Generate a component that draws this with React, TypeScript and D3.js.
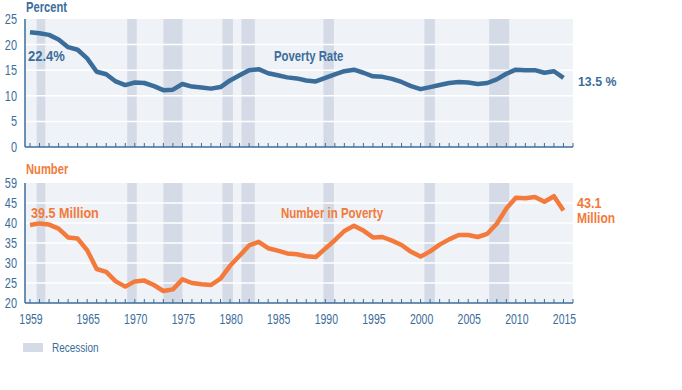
import React from "react";
import * as d3 from "d3";

const years = [
  1959, 1960, 1961, 1962, 1963, 1964, 1965, 1966, 1967, 1968,
  1969, 1970, 1971, 1972, 1973, 1974, 1975, 1976, 1977, 1978,
  1979, 1980, 1981, 1982, 1983, 1984, 1985, 1986, 1987, 1988,
  1989, 1990, 1991, 1992, 1993, 1994, 1995, 1996, 1997, 1998,
  1999, 2000, 2001, 2002, 2003, 2004, 2005, 2006, 2007, 2008,
  2009, 2010, 2011, 2012, 2013, 2014, 2015,
];

// poverty rate, percent
const povertyRate = [
  22.4, 22.2, 21.9, 21.0, 19.5, 19.0, 17.3, 14.7, 14.2, 12.8,
  12.1, 12.6, 12.5, 11.9, 11.1, 11.2, 12.3, 11.8, 11.6, 11.4,
  11.7, 13.0, 14.0, 15.0, 15.2, 14.4, 14.0, 13.6, 13.4, 13.0,
  12.8, 13.5, 14.2, 14.8, 15.1, 14.5, 13.8, 13.7, 13.3, 12.7,
  11.9, 11.3, 11.7, 12.1, 12.5, 12.7, 12.6, 12.3, 12.5, 13.2,
  14.3, 15.1, 15.0, 15.0, 14.5, 14.8, 13.5,
];

// number in poverty, millions
const numberInPoverty = [
  39.5, 39.9, 39.6, 38.6, 36.4, 36.1, 33.2, 28.5, 27.8, 25.4,
  24.1, 25.4, 25.6, 24.5, 23.0, 23.4, 25.9, 25.0, 24.7, 24.5,
  26.1, 29.3, 31.8, 34.4, 35.3, 33.7, 33.1, 32.4, 32.2, 31.7,
  31.5, 33.6, 35.7, 38.0, 39.3, 38.1, 36.4, 36.5, 35.6, 34.5,
  32.8, 31.6, 32.9, 34.6, 35.9, 37.0, 37.0, 36.5, 37.3, 39.8,
  43.6, 46.3, 46.2, 46.5, 45.3, 46.7, 43.1,
];

const recessionStart = [1959.7, 1969.2, 1973.0, 1979.2, 1981.2, 1989.8, 2000.4, 2007.2];
const recessionEnd = [1960.6, 1970.2, 1975.0, 1980.3, 1982.6, 1990.9, 2001.5, 2009.3];

const xTickLabels = ["1959", "1965", "1970", "1975", "1980", "1985", "1990", "1995", "2000", "2005", "2010", "2015"];
const rateTicks = [0, 5, 10, 15, 20, 25];
const numberTicks = [20, 25, 30, 35, 40, 45, 50];
const numberTickLabels = ["20", "25", "30", "35", "40", "45", "59"];

const BLUE = "#3b6d9b";
const ORANGE = "#f37a3a";
const BG = "#eff2f6";
const BAND = "#d5dbe6";
const SANS = "'Liberation Sans', Arial, sans-serif";

type Sel = d3.Selection<SVGGElement | SVGSVGElement, unknown, null, undefined>;

// no condensed face installed, so squeeze the glyphs horizontally
const label = (
  parent: Sel,
  tx: number,
  ty: number,
  text: string,
  color: string,
  size: number,
  sx: number,
  weight = "bold",
  anchor = "start"
) =>
  parent
    .append("text")
    .attr("transform", `translate(${tx},${ty}) scale(${sx},1)`)
    .attr("text-anchor", anchor)
    .attr("font-family", SANS)
    .attr("font-size", size)
    .attr("font-weight", weight)
    .attr("fill", color)
    .text(text);

const App = () => {
  const svgRef = React.useRef<SVGSVGElement>(null);

  React.useEffect(() => {
    const svg = d3.select(svgRef.current) as unknown as Sel;
    svg.selectAll("*").remove();

    const x = d3.scaleLinear().domain([1958.475, 2016]).range([25, 573]);
    const tickYears = d3.range(1959, 2017);

    const panel = (
      y: d3.ScaleLinear<number, number>,
      values: number[],
      ticks: number[],
      labels: string[],
      color: string
    ) => {
      const [bottom, top] = y.range();
      const g = svg.append("g") as unknown as Sel;

      g.append("rect")
        .attr("x", 25)
        .attr("y", top)
        .attr("width", 548)
        .attr("height", bottom - top)
        .attr("fill", BG);

      g.selectAll(".band")
        .data(recessionStart)
        .enter()
        .append("rect")
        .attr("x", (d) => x(d))
        .attr("y", top)
        .attr("width", (d, i) => x(recessionEnd[i]) - x(d))
        .attr("height", bottom - top)
        .attr("fill", BAND);

      g.selectAll(".grid")
        .data(ticks.slice(1, -1))
        .enter()
        .append("line")
        .attr("x1", 25)
        .attr("x2", 573)
        .attr("y1", (d) => y(d))
        .attr("y2", (d) => y(d))
        .attr("stroke", "#fff")
        .attr("stroke-width", 1.5);

      ticks.forEach((t, i) => {
        label(g, 17, y(t) + 5, labels[i], BLUE, 14, 0.78, "normal", "end");
      });

      g.append("line")
        .attr("x1", 25)
        .attr("x2", 25)
        .attr("y1", top)
        .attr("y2", bottom)
        .attr("stroke", BLUE)
        .attr("stroke-width", 1.5);

      g.append("line")
        .attr("x1", 25)
        .attr("x2", 573)
        .attr("y1", bottom)
        .attr("y2", bottom)
        .attr("stroke", BLUE)
        .attr("stroke-width", 1.5);

      g.selectAll(".tick")
        .data(tickYears)
        .enter()
        .append("line")
        .attr("x1", (d) => x(d))
        .attr("x2", (d) => x(d))
        .attr("y1", bottom)
        .attr("y2", bottom - 4)
        .attr("stroke", BLUE)
        .attr("stroke-width", 1);

      const line = d3
        .line<number>()
        .x((d, i) => x(years[i]))
        .y((d) => y(d));

      g.append("path")
        .datum(values)
        .attr("d", line)
        .attr("fill", "none")
        .attr("stroke", color)
        .attr("stroke-width", 4.5)
        .attr("stroke-linejoin", "round");
    };

    const yRate = d3.scaleLinear().domain([0, 25]).range([147, 19]);
    const yNum = d3.scaleLinear().domain([20, 50]).range([303, 183]);

    panel(yRate, povertyRate, rateTicks, rateTicks.map(String), BLUE);
    panel(yNum, numberInPoverty, numberTicks, numberTickLabels, ORANGE);

    // x labels on the lower panel
    xTickLabels.forEach((d) => {
      label(svg, x(+d) + 1, 324, d, BLUE, 14, 0.75, "normal", "middle");
    });

    label(svg, 26, 12, "Percent", BLUE, 14, 0.8);
    label(svg, 28, 61, "22.4%", BLUE, 14, 0.93);
    label(svg, 274, 61, "Poverty Rate", BLUE, 14, 0.81);
    label(svg, 578, 86, "13.5 %", BLUE, 13, 0.95);

    label(svg, 26, 174, "Number", ORANGE, 14, 0.8);
    label(svg, 31, 218, "39.5 Million", ORANGE, 14, 0.9);
    label(svg, 281, 218, "Number in Poverty", ORANGE, 14, 0.82);
    label(svg, 577, 208, "43.1", ORANGE, 14, 0.9);
    label(svg, 577, 223, "Million", ORANGE, 14, 0.86);

    // legend
    svg
      .append("rect")
      .attr("x", 23)
      .attr("y", 343)
      .attr("width", 20)
      .attr("height", 9)
      .attr("fill", BAND);
    label(svg, 52, 352, "Recession", BLUE, 12.5, 0.8, "normal");
  }, []);

  return (
    <svg
      ref={svgRef}
      width="682"
      height="390"
      style={{ position: "absolute", left: 0, top: 0, background: "#fff" }}
    ></svg>
  );
};

export default App;
